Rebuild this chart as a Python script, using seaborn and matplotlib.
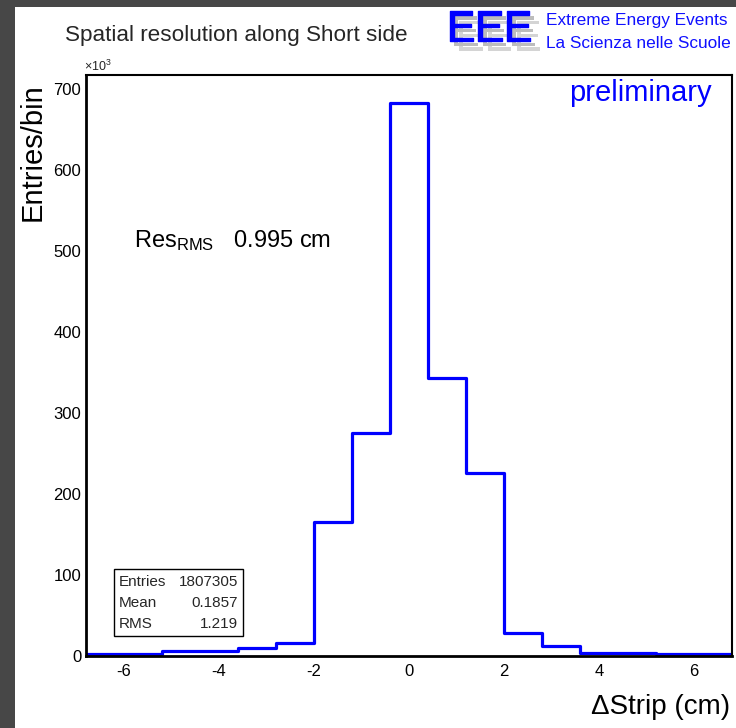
import numpy as np
import pandas as pd
import seaborn as sns
import matplotlib
matplotlib.use("Agg")
import matplotlib.pyplot as plt
import matplotlib.patheffects as pe
from matplotlib.patches import Rectangle
from matplotlib.ticker import MultipleLocator

# ---- data ----
bin_edges = [-6.8, -6.0, -5.2, -4.4, -3.6, -2.8, -2.0, -1.2, -0.4, 0.4,
             1.2, 2.0, 2.8, 3.6, 4.4, 5.2, 6.0, 6.8]
counts_k = [2.5, 2.5, 6.0, 6.0, 10.0, 16.0, 165.0, 275.0, 683.0, 343.0,
            226.0, 29.0, 12.5, 4.0, 4.0, 2.5, 2.5]          # entries/bin, x10^3
x_ticks = [-6, -4, -2, 0, 2, 4, 6]
y_ticks = [0, 100, 200, 300, 400, 500, 600, 700]
title = "Spatial resolution along Short side"
stat_labels = ["Entries", "Mean", "RMS"]
stat_values = ["1807305", "0.1857", "1.219"]

centers = [(a + b) / 2 for a, b in zip(bin_edges[:-1], bin_edges[1:])]
df = pd.DataFrame({"x": centers, "w": counts_k})

sns.set_style("white")
plt.rcParams["font.family"] = ["Liberation Sans", "DejaVu Sans"]
plt.rcParams["mathtext.fontset"] = "custom"
plt.rcParams["mathtext.rm"] = "Liberation Sans"
plt.rcParams["mathtext.it"] = "Liberation Sans:italic"
plt.rcParams["mathtext.bf"] = "Liberation Sans:bold"

W, H = 736, 728
fig = plt.figure(figsize=(W / 100, H / 100), dpi=100)
fig.patch.set_facecolor("white")

# dark frame of the canvas (left and top)
fig.patches.append(Rectangle((0, 0), 15 / W, 1, transform=fig.transFigure,
                             facecolor="#474747", edgecolor="none", zorder=0))
fig.patches.append(Rectangle((0, 1 - 7 / H), 1, 7 / H, transform=fig.transFigure,
                             facecolor="#474747", edgecolor="none", zorder=0))

ax_l, ax_r, ax_t, ax_b = 86, 732, 75, 656
ax = fig.add_axes([ax_l / W, 1 - ax_b / H, (ax_r - ax_l) / W, (ax_b - ax_t) / H])

sns.histplot(data=df, x="x", weights="w", bins=bin_edges, element="step",
             fill=False, color="#0000ff", linewidth=2.3, ax=ax)

ax.set_xlim(-6.8, 6.8)
ax.set_ylim(0, 717.6)
ax.set_xticks(x_ticks)
ax.set_yticks(y_ticks)
ax.set_xticklabels([str(t) for t in x_ticks])
ax.set_yticklabels([str(t) for t in y_ticks])
ax.xaxis.set_minor_locator(MultipleLocator(0.5))
ax.yaxis.set_minor_locator(MultipleLocator(20))
ax.tick_params(axis="both", which="both", direction="in", top=False, right=False,
               colors="black", labelsize=12)
ax.tick_params(axis="both", which="major", length=13, width=1.0)
ax.tick_params(axis="both", which="minor", length=6.5, width=1.0)
ax.tick_params(axis="y", which="major", pad=3.5)
ax.tick_params(axis="x", which="major", pad=6)
ax.set_xlabel("")
ax.set_ylabel("")
for s in ax.spines.values():
    s.set_color("black")
    s.set_linewidth(1.5)
ax.spines["left"].set_linewidth(2.0)
ax.spines["bottom"].set_linewidth(2.0)

# axis titles
fig.text(33 / W, 1 - 83 / H, "Entries/bin", rotation=90, ha="center", va="top",
         fontsize=21, color="black")
fig.text(730 / W, 1 - 707 / H, "\u0394Strip (cm)", ha="right", va="center",
         fontsize=20, color="black")
fig.text(84 / W, 1 - 66 / H, r"$\times10^{3}$", ha="left", va="center", fontsize=9)

# title
fig.text(65 / W, 1 - 36 / H, title, ha="left", va="center", fontsize=16.2)

# logo
fig.text(446 / W, 1 - 30 / H, "EEE", ha="left", va="center", fontsize=31,
         color="#0000ff",
         path_effects=[pe.SimplePatchShadow(offset=(7, -7), shadow_rgbFace="#d4d4d4", alpha=1),
                       pe.SimplePatchShadow(offset=(3.5, -3.5), shadow_rgbFace="#bcbcbc", alpha=1),
                       pe.withStroke(linewidth=1.0, foreground="#0000ff"),
                       pe.Normal()])
fig.text(546 / W, 1 - 21 / H, "Extreme Energy Events", ha="left", va="center",
         fontsize=12.4, color="#1010ff")
fig.text(546 / W, 1 - 44 / H, "La Scienza nelle Scuole", ha="left", va="center",
         fontsize=12.4, color="#1010ff")

# annotations inside the frame
ax.text((712 - ax_l) / (ax_r - ax_l), 1 - (93 - ax_t) / (ax_b - ax_t), "preliminary",
        transform=ax.transAxes, ha="right", va="center", fontsize=21, color="#0000ff")
ax.text(-5.8, 505, r"$\mathrm{Res}_{\mathrm{RMS}}$   0.995 cm", ha="left",
        va="baseline", fontsize=17, color="black")

# stat box
bx0, bx1, by0, by1 = 114, 243, 569, 636
ah = ax_b - ax_t
aw = ax_r - ax_l
ax.add_patch(Rectangle(((bx0 - ax_l) / aw, (ax_b - by1) / ah),
                       (bx1 - bx0) / aw, (by1 - by0) / ah, transform=ax.transAxes,
                       facecolor="white", edgecolor="black", linewidth=1.0, zorder=5))
for yy, lab, val in zip([581.5, 603, 623.5], stat_labels, stat_values):
    ty = (ax_b - yy) / ah
    ax.text((bx0 + 5 - ax_l) / aw, ty, lab, transform=ax.transAxes, ha="left",
            va="center", fontsize=11, zorder=6)
    ax.text((bx1 - 5 - ax_l) / aw, ty, val, transform=ax.transAxes, ha="right",
            va="center", fontsize=11, zorder=6)

fig.savefig("out.png", dpi=100)
